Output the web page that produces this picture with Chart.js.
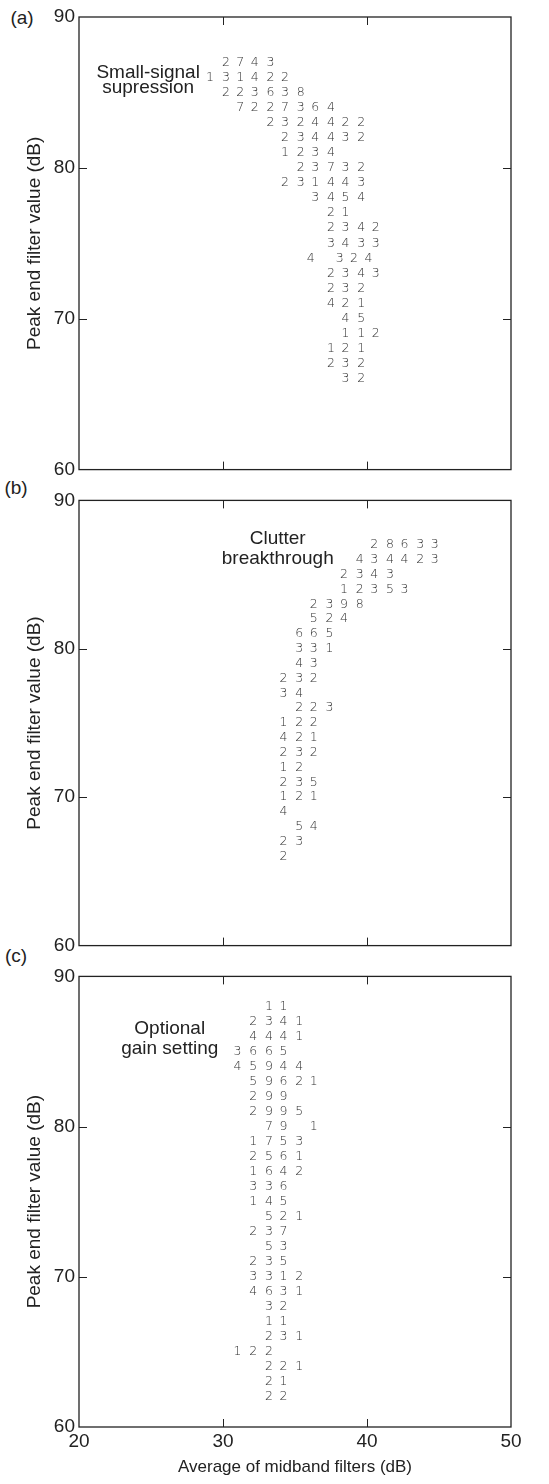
<!DOCTYPE html>
<html>
<head>
<meta charset="utf-8">
<script src="https://cdn.jsdelivr.net/npm/chart.js@4.4.0/dist/chart.umd.min.js"></script>
<style>
  body { margin: 0; width: 549px; height: 1484px; background: #fff; position: relative; overflow: hidden; font-family: "Liberation Sans", Arial, sans-serif; }
  .panel { position: absolute; left: 0; width: 549px; }
  .tag { position: absolute; font-size: 19px; color: #222; line-height: 1; transform: translate(-50%, -50%); }
</style>
</head>
<body>
<div class="tag" style="left:22px;top:17px">(a)</div>
<div class="tag" style="left:16px;top:487px">(b)</div>
<div class="tag" style="left:16px;top:955px">(c)</div>
<div class="panel" style="top:0;height:485px"><canvas id="chartA"></canvas></div>
<div class="panel" style="top:485px;height:476px"><canvas id="chartB"></canvas></div>
<div class="panel" style="top:961px;height:523px"><canvas id="chartC"></canvas></div>
<script>
/* axes, shared by the three panels */
const xRange = [20, 50];
const yRange = [60, 90];
const xMarks = [30, 40];
const yMarks = [70, 80];
const xTitle = "Average of midband filters (dB)";
const yTitle = "Peak end filter value (dB)";

/* (a) small-signal supression : one row per peak value */
const rowsA = [87, 86, 85, 84, 83, 82, 81, 80, 79, 78, 77, 76, 75, 74, 73, 72, 71, 70, 69, 68, 67, 66];
const colsA = [
  [30.2, 31.2, 32.2, 33.3],
  [29.1, 30.2, 31.2, 32.2, 33.3, 34.3],
  [30.2, 31.2, 32.2, 33.3, 34.3, 35.4],
  [31.2, 32.2, 33.3, 34.3, 35.4, 36.4, 37.5],
  [33.3, 34.3, 35.4, 36.4, 37.5, 38.5, 39.6],
  [34.3, 35.4, 36.4, 37.5, 38.5, 39.6],
  [34.3, 35.4, 36.4, 37.5],
  [35.4, 36.4, 37.5, 38.5, 39.6],
  [34.3, 35.4, 36.4, 37.5, 38.5, 39.6],
  [36.4, 37.5, 38.5, 39.6],
  [37.5, 38.5],
  [37.5, 38.5, 39.6, 40.6],
  [37.5, 38.5, 39.6, 40.6],
  [36.1, 38.1, 39.1, 40.1],
  [37.5, 38.5, 39.6, 40.6],
  [37.5, 38.5, 39.6],
  [37.5, 38.5, 39.6],
  [38.5, 39.6],
  [38.5, 39.6, 40.6],
  [37.5, 38.5, 39.6],
  [37.5, 38.5, 39.6],
  [38.5, 39.6],
];
const countsA = [
  [2, 7, 4, 3],
  [1, 3, 1, 4, 2, 2],
  [2, 2, 3, 6, 3, 8],
  [7, 2, 2, 7, 3, 6, 4],
  [2, 3, 2, 4, 4, 2, 2],
  [2, 3, 4, 4, 3, 2],
  [1, 2, 3, 4],
  [2, 3, 7, 3, 2],
  [2, 3, 1, 4, 4, 3],
  [3, 4, 5, 4],
  [2, 1],
  [2, 3, 4, 2],
  [3, 4, 3, 3],
  [4, 3, 2, 4],
  [2, 3, 4, 3],
  [2, 3, 2],
  [4, 2, 1],
  [4, 5],
  [1, 1, 2],
  [1, 2, 1],
  [2, 3, 2],
  [3, 2],
];

/* (b) clutter breakthrough */
const rowsB = [87, 86, 85, 84, 83, 82, 81, 80, 79, 78, 77, 76, 75, 74, 73, 72, 71, 70, 69, 68, 67, 66];
const colsB = [
  [40.5, 41.6, 42.6, 43.7, 44.7],
  [39.5, 40.5, 41.6, 42.6, 43.7, 44.7],
  [38.4, 39.5, 40.5, 41.6],
  [38.4, 39.5, 40.5, 41.6, 42.6],
  [36.3, 37.4, 38.4, 39.5],
  [36.3, 37.4, 38.4],
  [35.3, 36.3, 37.4],
  [35.3, 36.3, 37.4],
  [35.3, 36.3],
  [34.2, 35.3, 36.3],
  [34.2, 35.3],
  [35.3, 36.3, 37.4],
  [34.2, 35.3, 36.3],
  [34.2, 35.3, 36.3],
  [34.2, 35.3, 36.3],
  [34.2, 35.3],
  [34.2, 35.3, 36.3],
  [34.2, 35.3, 36.3],
  [34.2],
  [35.3, 36.3],
  [34.2, 35.3],
  [34.2],
];
const countsB = [
  [2, 8, 6, 3, 3],
  [4, 3, 4, 4, 2, 3],
  [2, 3, 4, 3],
  [1, 2, 3, 5, 3],
  [2, 3, 9, 8],
  [5, 2, 4],
  [6, 6, 5],
  [3, 3, 1],
  [4, 3],
  [2, 3, 2],
  [3, 4],
  [2, 2, 3],
  [1, 2, 2],
  [4, 2, 1],
  [2, 3, 2],
  [1, 2],
  [2, 3, 5],
  [1, 2, 1],
  [4],
  [5, 4],
  [2, 3],
  [2],
];

/* (c) optional gain setting */
const rowsC = [88, 87, 86, 85, 84, 83, 82, 81, 80, 79, 78, 77, 76, 75, 74, 73, 72, 71, 70, 69, 68, 67, 66, 65, 64, 63, 62];
const colsC = [
  [33.2, 34.2],
  [32.1, 33.2, 34.2, 35.3],
  [32.1, 33.2, 34.2, 35.3],
  [31.0, 32.1, 33.2, 34.2],
  [31.0, 32.1, 33.2, 34.2, 35.3],
  [32.1, 33.2, 34.2, 35.3, 36.3],
  [32.1, 33.2, 34.2],
  [32.1, 33.2, 34.2, 35.3],
  [33.2, 34.2, 36.3],
  [32.1, 33.2, 34.2, 35.3],
  [32.1, 33.2, 34.2, 35.3],
  [32.1, 33.2, 34.2, 35.3],
  [32.1, 33.2, 34.2],
  [32.1, 33.2, 34.2],
  [33.2, 34.2, 35.3],
  [32.1, 33.2, 34.2],
  [33.2, 34.2],
  [32.1, 33.2, 34.2],
  [32.1, 33.2, 34.2, 35.3],
  [32.1, 33.2, 34.2, 35.3],
  [33.2, 34.2],
  [33.2, 34.2],
  [33.2, 34.2, 35.3],
  [31.0, 32.1, 33.2],
  [33.2, 34.2, 35.3],
  [33.2, 34.2],
  [33.2, 34.2],
];
const countsC = [
  [1, 1],
  [2, 3, 4, 1],
  [4, 4, 4, 1],
  [3, 6, 6, 5],
  [4, 5, 9, 4, 4],
  [5, 9, 6, 2, 1],
  [2, 9, 9],
  [2, 9, 9, 5],
  [7, 9, 1],
  [1, 7, 5, 3],
  [2, 5, 6, 1],
  [1, 6, 4, 2],
  [3, 3, 6],
  [1, 4, 5],
  [5, 2, 1],
  [2, 3, 7],
  [5, 3],
  [2, 3, 5],
  [3, 3, 1, 2],
  [4, 6, 3, 1],
  [3, 2],
  [1, 1],
  [2, 3, 1],
  [1, 2, 2],
  [2, 2, 1],
  [2, 1],
  [2, 2],
];

const notesA = ["Small-signal", "supression"];
const notesB = ["Clutter", "breakthrough"];
const notesC = ["Optional", "gain setting"];

function toPoints(rows, cols, counts) {
  const pts = [];
  rows.forEach((y, i) => {
    cols[i].forEach((x, j) => pts.push({ x: x, y: y, n: counts[i][j] }));
  });
  return pts;
}

// draws the count digits, the box, the inward ticks and the note
const histText = {
  id: "histText",
  afterDatasetsDraw(chart, args, opts) {
    const ctx = chart.ctx;
    const a = chart.chartArea;
    const xs = chart.scales.x;
    const ys = chart.scales.y;
    const pts = chart.data.datasets[0].data;
    const meta = chart.getDatasetMeta(0);

    ctx.save();
    ctx.font = "200 12.5px 'DejaVu Sans'";
    ctx.fillStyle = "#333";
    ctx.textAlign = "center";
    ctx.textBaseline = "middle";
    meta.data.forEach((el, i) => {
      ctx.fillText(String(pts[i].n), el.x, el.y);
    });

    ctx.strokeStyle = "#222";
    ctx.lineWidth = 1.3;
    ctx.strokeRect(a.left, a.top, a.right - a.left, a.bottom - a.top);
    ctx.beginPath();
    xMarks.forEach((v) => {
      const px = Math.round(xs.getPixelForValue(v)) + 0.5;
      ctx.moveTo(px, a.top);
      ctx.lineTo(px, a.top + 8);
      ctx.moveTo(px, a.bottom);
      ctx.lineTo(px, a.bottom - 8);
    });
    yMarks.forEach((v) => {
      const py = Math.round(ys.getPixelForValue(v)) + 0.5;
      ctx.moveTo(a.left, py);
      ctx.lineTo(a.left + 8, py);
      ctx.moveTo(a.right, py);
      ctx.lineTo(a.right - 8, py);
    });
    ctx.lineWidth = 1;
    ctx.stroke();

    ctx.font = "19px 'Liberation Sans'";
    ctx.fillStyle = "#222";
    opts.lines.forEach((t, i) => {
      ctx.fillText(t, xs.getPixelForValue(opts.at[i][0]), ys.getPixelForValue(opts.at[i][1]));
    });
    ctx.restore();
  },
};

function makePanel(id, rows, cols, counts, notes, noteAt, pad, showX) {
  return new Chart(document.getElementById(id), {
    type: "scatter",
    data: {
      datasets: [
        {
          data: toPoints(rows, cols, counts),
          pointRadius: 0,
          pointHoverRadius: 0,
          showLine: false,
        },
      ],
    },
    options: {
      responsive: true,
      maintainAspectRatio: false,
      animation: false,
      events: [],
      layout: { padding: pad },
      plugins: {
        legend: { display: false },
        tooltip: { enabled: false },
        histText: { lines: notes, at: noteAt },
      },
      scales: {
        x: {
          type: "linear",
          min: xRange[0],
          max: xRange[1],
          grid: { display: false, drawTicks: false },
          border: { display: false },
          ticks: {
            display: showX,
            stepSize: 10,
            padding: 3,
            color: "#222",
            font: { family: "'Liberation Sans'", size: 19 },
          },
          title: {
            display: showX,
            text: xTitle,
            color: "#222",
            font: { family: "'Liberation Sans'", size: 17 },
            padding: { top: 0, bottom: 6 },
          },
          afterFit: (s) => {
            s.height = showX ? 57 : 0;
          },
        },
        y: {
          type: "linear",
          min: yRange[0],
          max: yRange[1],
          grid: { display: false, drawTicks: false },
          border: { display: false },
          ticks: {
            stepSize: 10,
            padding: 4,
            color: "#222",
            font: { family: "'Liberation Sans'", size: 19 },
          },
          title: {
            display: true,
            text: yTitle,
            color: "#222",
            font: { family: "'Liberation Sans'", size: 19 },
            padding: { top: 23, bottom: 0 },
          },
          afterFit: (s) => {
            s.width = 79;
          },
        },
      },
    },
    plugins: [histText],
  });
}

makePanel("chartA", rowsA, colsA, countsA, notesA, [[24.8, 86.3], [24.8, 85.3]],
  { top: 17, right: 38, bottom: 12, left: 0 }, false);
makePanel("chartB", rowsB, colsB, countsB, notesB, [[33.8, 87.4], [33.8, 86.1]],
  { top: 8, right: 38, bottom: 12, left: 0 }, false);
makePanel("chartC", rowsC, colsC, countsC, notesC, [[26.3, 86.5], [26.3, 85.2]],
  { top: 11, right: 38, bottom: 0, left: 0 }, true);
</script>
</body>
</html>
